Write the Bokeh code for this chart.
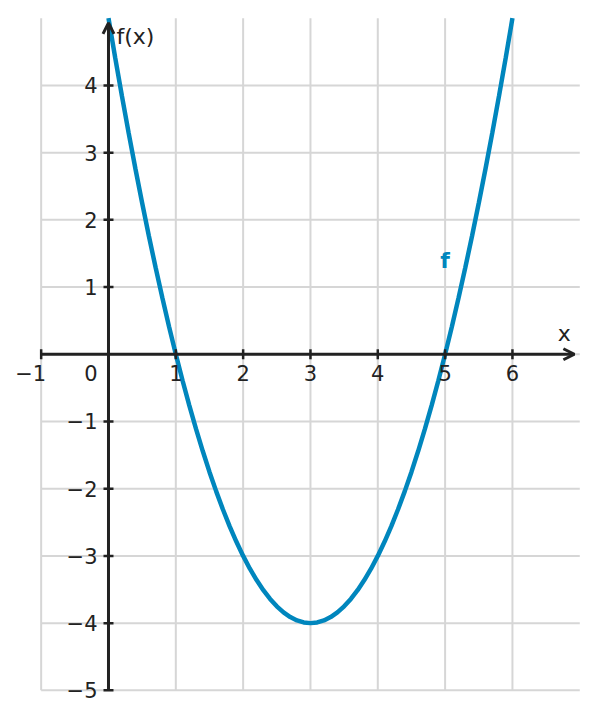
from bokeh.plotting import figure
from bokeh.models import Range1d, Arrow, OpenHead
from bokeh.core.properties import value
from bokeh.embed import file_html
from bokeh.resources import INLINE

# ---- data ----
curve_x = [0.0, 0.1, 0.2, 0.3, 0.4, 0.5, 0.6, 0.7, 0.8, 0.9,
           1.0, 1.1, 1.2, 1.3, 1.4, 1.5, 1.6, 1.7, 1.8, 1.9,
           2.0, 2.1, 2.2, 2.3, 2.4, 2.5, 2.6, 2.7, 2.8, 2.9,
           3.0, 3.1, 3.2, 3.3, 3.4, 3.5, 3.6, 3.7, 3.8, 3.9,
           4.0, 4.1, 4.2, 4.3, 4.4, 4.5, 4.6, 4.7, 4.8, 4.9,
           5.0, 5.1, 5.2, 5.3, 5.4, 5.5, 5.6, 5.7, 5.8, 5.9, 6.0]
curve_y = [5.0, 4.41, 3.84, 3.29, 2.76, 2.25, 1.76, 1.29, 0.84, 0.41,
           0.0, -0.39, -0.76, -1.11, -1.44, -1.75, -2.04, -2.31, -2.56, -2.79,
           -3.0, -3.19, -3.36, -3.51, -3.64, -3.75, -3.84, -3.91, -3.96, -3.99,
           -4.0, -3.99, -3.96, -3.91, -3.84, -3.75, -3.64, -3.51, -3.36, -3.19,
           -3.0, -2.79, -2.56, -2.31, -2.04, -1.75, -1.44, -1.11, -0.76, -0.39,
           0.0, 0.41, 0.84, 1.29, 1.76, 2.25, 2.76, 3.29, 3.84, 4.41, 5.0]
x_ticks = [-1, 1, 2, 3, 4, 5, 6]
x_tick_labels = ["\u22121", "1", "2", "3", "4", "5", "6"]
y_ticks = [4, 3, 2, 1, -1, -2, -3, -4, -5]
y_tick_labels = ["4", "3", "2", "1", "\u22121", "\u22122", "\u22123", "\u22124", "\u22125"]
x_grid = [-1, 0, 1, 2, 3, 4, 5, 6]
y_grid = [-5, -4, -3, -2, -1, 0, 1, 2, 3, 4]
grid_x_extent = (-1, 7)
grid_y_extent = (-5, 5)
func_name = "f"
x_axis_name = "x"
y_axis_name = "f(x)"

BLUE = "#0086BD"
INK = "#222222"
GRID = "#d6d6d6"
FONT = value("DejaVu Sans")
TICK_FS = value("21px")
NAME_FS = value("22px")

# view padded around the drawing area so labels outside it are not clipped
x_view = (-1.5, 7.1)
y_view = (-5.3, 5.1)
FW, FH = 579, 699
p = figure(frame_width=FW, frame_height=FH, output_backend="svg", toolbar_location=None,
           x_range=Range1d(*x_view), y_range=Range1d(*y_view),
           min_border_left=7, min_border_right=5, min_border_top=11, min_border_bottom=1)
p.outline_line_color = None
p.xaxis.visible = False
p.yaxis.visible = False
p.xgrid.visible = False
p.ygrid.visible = False

# grid lines limited to the drawing area
p.segment(x0=x_grid, y0=[grid_y_extent[0]] * len(x_grid),
          x1=x_grid, y1=[grid_y_extent[1]] * len(x_grid),
          line_color=GRID, line_width=2)
p.segment(x0=[grid_x_extent[0]] * len(y_grid), y0=y_grid,
          x1=[grid_x_extent[1]] * len(y_grid), y1=y_grid,
          line_color=GRID, line_width=2)

# curve
p.line(curve_x, curve_y, line_color=BLUE, line_width=4.5)

# axes lines with arrows
p.add_layout(Arrow(end=OpenHead(size=11, line_color=INK, line_width=3),
                   x_start=grid_x_extent[0], y_start=0, x_end=6.92, y_end=0,
                   line_color=INK, line_width=3))
p.add_layout(Arrow(end=OpenHead(size=11, line_color=INK, line_width=3),
                   x_start=0, y_start=grid_y_extent[0], x_end=0, y_end=4.93,
                   line_color=INK, line_width=3))

# tick marks (half-length ~5px)
dx = 5 / (FW / (x_view[1] - x_view[0]))
dy = 5 / (FH / (y_view[1] - y_view[0]))
p.segment(x0=x_ticks, y0=[-dy] * len(x_ticks), x1=x_ticks, y1=[dy] * len(x_ticks),
          line_color=INK, line_width=2.5)
p.segment(x0=[-dx] * len(y_ticks), y0=y_ticks, x1=[dx] * len(y_ticks), y1=y_ticks,
          line_color=INK, line_width=2.5)

# tick labels
pos_idx = [i for i, t in enumerate(x_ticks) if t > 0]
neg_idx = [i for i, t in enumerate(x_ticks) if t < 0]
common = dict(text_font=FONT, text_font_size=TICK_FS, text_color=INK, text_baseline="middle")
p.text(x=[x_ticks[i] for i in pos_idx], y=[0] * len(pos_idx),
       text=[x_tick_labels[i] for i in pos_idx],
       text_align="center", y_offset=19, **common)
p.text(x=[x_ticks[i] for i in neg_idx], y=[0] * len(neg_idx),
       text=[x_tick_labels[i] for i in neg_idx],
       text_align="right", x_offset=5, y_offset=19, **common)
p.text(x=[0] * len(y_ticks), y=y_ticks, text=y_tick_labels,
       text_align="right", x_offset=-11, **common)
p.text(x=[0], y=[0], text=["0"], text_align="right", x_offset=-11, y_offset=19, **common)

# axis names
p.text(x=[0], y=[4.73], text=[y_axis_name], text_align="left", text_baseline="middle",
       x_offset=8, text_font=FONT, text_font_size=NAME_FS, text_color=INK)
p.text(x=[6.77], y=[0.31], text=[x_axis_name], text_align="center", text_baseline="middle",
       text_font=FONT, text_font_size=NAME_FS, text_color=INK)

# function name
p.text(x=[5], y=[1.4], text=[func_name], text_align="center", text_baseline="middle",
       text_font=FONT, text_font_size=NAME_FS, text_font_style="bold", text_color=BLUE)

open("out.html", "w").write(file_html(p, INLINE))
